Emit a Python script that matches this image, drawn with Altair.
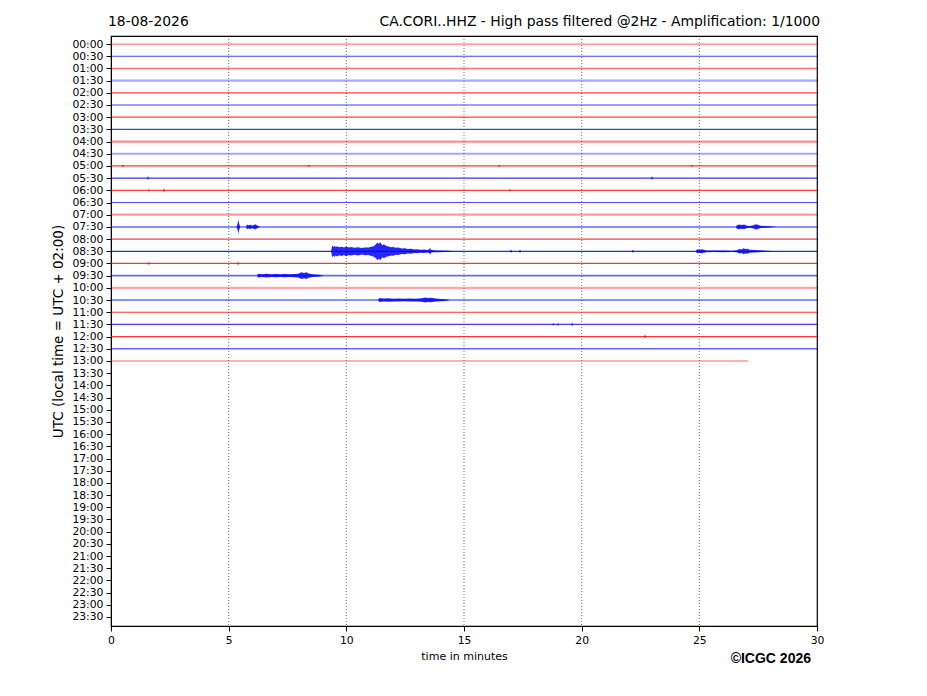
import altair as alt
import pandas as pd

# ---- data ----
time_labels = [f"{h:02d}:{m:02d}" for h in range(24) for m in (0, 30)]
row_ids = list(range(len(time_labels)))

# traces present: rows 0..26 (00:00 .. 13:00)
trace_rows = list(range(27))
trace_end = [30.0] * 26 + [27.07]
trace_color = ["#ff0000" if r % 2 == 0 else "#0000ff" for r in trace_rows]
trace_opacity = [0.5, 0.75, 0.55, 0.35, 0.75, 0.75, 0.75, 0.75, 0.45, 0.35,
                 0.8, 0.8, 0.75, 0.7, 0.4, 0.45, 0.75, 0.85, 0.8, 0.6,
                 0.35, 0.6, 0.8, 0.75, 0.8, 0.6, 0.3]
trace_width = [1.2, 1.2, 1.6, 2.2, 1.2, 1.2, 1.2, 1.2, 2.2, 2.2,
               1.2, 1.2, 1.2, 1.2, 2.2, 2.0, 1.2, 1.2, 1.2, 1.8,
               2.2, 1.6, 1.2, 1.2, 1.2, 1.6, 2.2]

# event envelopes: (event id, row, times [min], half amplitude [row units])
ev_id = []
ev_row = []
ev_t = []
ev_amp = []

def add_event(name, row, times, amps):
    for t, a in zip(times, amps):
        ev_id.append(name)
        ev_row.append(row)
        ev_t.append(t)
        ev_amp.append(a)

add_event("e0830a", 17,
          [9.35, 9.4, 9.45, 9.5, 9.55, 9.6, 9.7, 9.8, 9.9, 10.0, 10.1, 10.2, 10.35, 10.5, 10.65, 10.8,
           10.95, 11.05, 11.15, 11.25, 11.32, 11.38, 11.45, 11.52, 11.6, 11.7, 11.8, 11.9,
           12.0, 12.1, 12.2, 12.35, 12.5, 12.6, 12.75, 12.9, 13.0, 13.15, 13.3, 13.45, 13.52,
           13.56, 13.6, 13.7, 13.9, 14.1, 14.35, 14.6],
          [0.0, 0.50, 0.36, 0.46, 0.34, 0.42, 0.33, 0.38, 0.30, 0.40, 0.31, 0.35, 0.28, 0.34, 0.27, 0.32,
           0.30, 0.38, 0.42, 0.55, 0.72, 0.62, 0.74, 0.50, 0.58, 0.44, 0.40, 0.34,
           0.36, 0.28, 0.30, 0.22, 0.25, 0.18, 0.21, 0.15, 0.17, 0.12, 0.14, 0.10, 0.16,
           0.27, 0.12, 0.09, 0.07, 0.06, 0.05, 0.0])
add_event("e0830b", 17,
          [24.85, 24.9, 25.0, 25.1, 25.2, 25.3, 25.6, 26.0, 26.4, 26.6, 26.7, 26.8, 26.88, 26.95, 27.05, 27.15,
           27.35, 27.7, 28.2],
          [0.0, 0.17, 0.12, 0.16, 0.13, 0.07, 0.06, 0.07, 0.05, 0.08, 0.18, 0.15, 0.25, 0.18, 0.20, 0.12,
           0.10, 0.06, 0.0])
add_event("e0730a", 15,
          [5.33, 5.38, 5.41, 5.44, 5.49],
          [0.0, 0.25, 0.58, 0.3, 0.0])
add_event("e0730b", 15,
          [5.74, 5.78, 5.85, 5.92, 6.0, 6.07, 6.13, 6.2, 6.32],
          [0.0, 0.20, 0.13, 0.18, 0.12, 0.16, 0.21, 0.14, 0.0])
add_event("e0730c", 15,
          [26.55, 26.6, 26.7, 26.8, 26.9, 27.0, 27.1, 27.2, 27.3, 27.4, 27.5, 27.6, 27.8, 28.0, 28.3],
          [0.0, 0.15, 0.19, 0.16, 0.20, 0.12, 0.08, 0.10, 0.14, 0.22, 0.18, 0.10, 0.07, 0.05, 0.0])
add_event("e0930", 19,
          [6.2, 6.25, 6.4, 6.6, 6.8, 7.0, 7.2, 7.4, 7.6, 7.8, 7.95, 8.1, 8.2, 8.3, 8.4, 8.55, 8.7, 8.85, 9.05],
          [0.0, 0.15, 0.12, 0.15, 0.11, 0.14, 0.11, 0.13, 0.11, 0.14, 0.16, 0.27, 0.22, 0.28, 0.17, 0.12, 0.09, 0.07, 0.0])
add_event("e1030", 21,
          [11.35, 11.4, 11.6, 11.8, 12.0, 12.2, 12.45, 12.7, 12.95, 13.2, 13.35, 13.45, 13.6, 13.8, 14.0, 14.2, 14.4],
          [0.0, 0.16, 0.12, 0.14, 0.11, 0.13, 0.10, 0.12, 0.11, 0.15, 0.20, 0.17, 0.19, 0.12, 0.09, 0.07, 0.0])

# small isolated glitches: row, time [min], half amplitude [row units]
sp_row = [10, 10, 10, 10, 11, 11, 12, 12, 12, 18, 18, 17, 17, 17, 23, 23, 23, 24]
sp_t = [0.5, 8.4, 16.5, 24.7, 1.57, 22.99, 1.6, 2.25, 16.95, 1.6, 5.4, 17.0, 17.38, 22.18, 18.8, 19.0, 19.6, 22.7]
sp_amp = [0.08, 0.08, 0.08, 0.08, 0.12, 0.12, 0.08, 0.12, 0.08, 0.1, 0.1, 0.1, 0.1, 0.1, 0.08, 0.08, 0.1, 0.12]

x_ticks = [0, 5, 10, 15, 20, 25, 30]
grid_minutes = [5, 10, 15, 20, 25]

title_left = "18-08-2026"
title_right = "CA.CORI..HHZ - High pass filtered @2Hz - Amplification: 1/1000"
credit = "©ICGC 2026"

# ---- tables ----
traces = pd.DataFrame({"row": trace_rows, "start": [0.0] * len(trace_rows), "end": trace_end,
                       "color": trace_color, "op": trace_opacity, "w": trace_width})
events = pd.DataFrame({"id": ev_id, "row": ev_row, "t": ev_t, "amp": ev_amp})
events["lo"] = events["row"] - events["amp"]
events["hi"] = events["row"] + events["amp"]
specks = pd.DataFrame({"row": sp_row, "t": sp_t, "amp": sp_amp})
specks["lo"] = specks["row"] - specks["amp"]
specks["hi"] = specks["row"] + specks["amp"]
specks["color"] = ["#ff0000" if r % 2 == 0 else "#0000ff" for r in sp_row]
grid = pd.DataFrame({"m": grid_minutes})

W, H = 706, 590
xscale = alt.Scale(domain=[0, 30], nice=False, zero=False)
yscale = alt.Scale(domain=[-0.66, 47.74], reverse=True, nice=False, zero=False)

label_expr = "[" + ",".join(f"'{l}'" for l in time_labels) + "][datum.value]"

x_axis = alt.Axis(values=x_ticks, title="time in minutes", grid=False, labelFontSize=10.8,
                  titleFontSize=11, titleFontWeight="normal", titlePadding=6, tickSize=5,
                  labelPadding=3, labelFont="DejaVu Sans", titleFont="DejaVu Sans",
                  labelColor="black", titleColor="black", tickColor="black", domainColor="black",
                  labelOverlap=False, labelFlush=False)
y_axis = alt.Axis(values=row_ids, labelExpr=label_expr, title="UTC (local time = UTC + 02:00)",
                  grid=False, labelFontSize=10.8, titleFontSize=13.5, titleFontWeight="normal",
                  titlePadding=6, tickSize=5, labelPadding=3, labelFont="DejaVu Sans",
                  titleFont="DejaVu Sans", labelColor="black", titleColor="black",
                  tickColor="black", domainColor="black", labelOverlap=False, labelFlush=False,
                  labelBound=False)

grid_layer = alt.Chart(grid).mark_rule(color="black", strokeDash=[1, 2], strokeWidth=0.7, opacity=0.8).encode(
    x=alt.X("m:Q", scale=xscale, axis=x_axis),
    y=alt.value(0), y2=alt.value(H)
)

trace_layer = alt.Chart(traces).mark_rule().encode(
    x=alt.X("start:Q", scale=xscale, axis=x_axis),
    x2="end:Q",
    y=alt.Y("row:Q", scale=yscale, axis=y_axis),
    color=alt.Color("color:N", scale=None),
    opacity=alt.Opacity("op:Q", scale=None),
    strokeWidth=alt.StrokeWidth("w:Q", scale=None),
)

event_layer = alt.Chart(events).mark_area(color="#0000ff", opacity=0.85, interpolate="linear").encode(
    x=alt.X("t:Q", scale=xscale, axis=x_axis),
    y=alt.Y("lo:Q", scale=yscale, axis=y_axis),
    y2="hi:Q",
    detail="id:N",
)

speck_layer = alt.Chart(specks).mark_rule(strokeWidth=1.5, opacity=0.7).encode(
    x=alt.X("t:Q", scale=xscale, axis=x_axis),
    y=alt.Y("lo:Q", scale=yscale, axis=y_axis),
    y2="hi:Q",
    color=alt.Color("color:N", scale=None),
)

t_left = alt.Chart(pd.DataFrame({"s": [title_left]})).mark_text(
    align="left", baseline="alphabetic", fontSize=13.9, font="DejaVu Sans", color="black"
).encode(text="s:N", x=alt.value(-3), y=alt.value(-10))

t_right = alt.Chart(pd.DataFrame({"s": [title_right]})).mark_text(
    align="right", baseline="alphabetic", fontSize=13.9, font="DejaVu Sans", color="black"
).encode(text="s:N", x=alt.value(709), y=alt.value(-10))

t_credit = alt.Chart(pd.DataFrame({"s": [credit]})).mark_text(
    align="right", baseline="alphabetic", fontSize=14, font="Liberation Sans", fontWeight="bold",
    color="black"
).encode(text="s:N", x=alt.value(700), y=alt.value(H + 37))

chart = alt.layer(grid_layer, trace_layer, event_layer, speck_layer, t_left, t_right, t_credit).properties(
    width=W, height=H,
    autosize=alt.AutoSizeParams(type="none"),
    padding={"left": 103, "top": 28, "right": 90, "bottom": 50},
).configure(
    background="white",
    view=alt.ViewConfig(stroke="black", strokeWidth=1.2),
)

chart.save("out.html", embed_options={"renderer": "svg", "actions": False})
